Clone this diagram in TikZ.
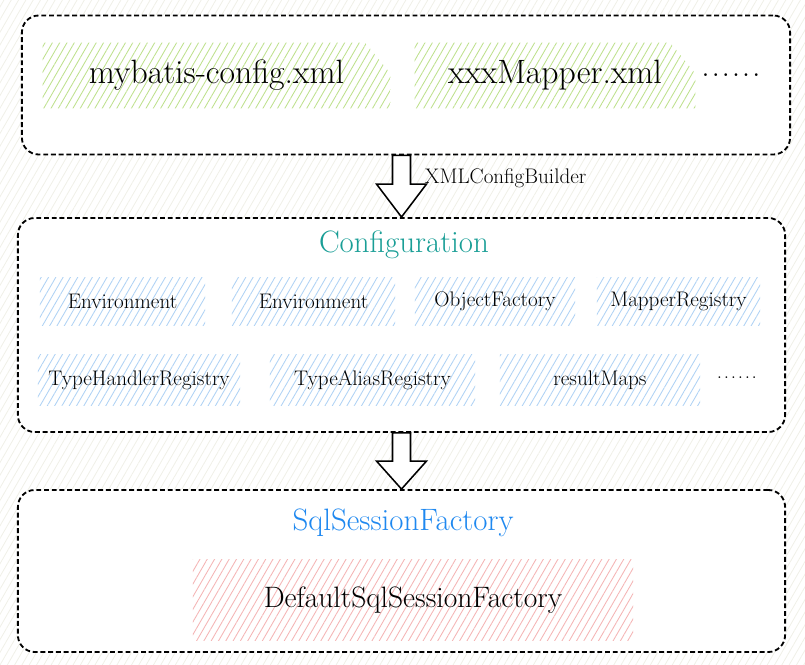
\documentclass[tikz,border=0pt]{standalone}
\usepackage{xcolor}
\usepackage{tikz}
\usetikzlibrary{patterns.meta,calc}
\definecolor{hgreen}{RGB}{190,225,140}
\definecolor{hblue}{RGB}{175,210,245}
\definecolor{hred}{RGB}{245,180,180}
\definecolor{hbg}{RGB}{240,240,232}
\definecolor{cfgteal}{RGB}{25,158,150}
\definecolor{ssfblue}{RGB}{30,136,240}
\newcommand{\moredots}{.\kern1.2pt.\kern1.2pt.\kern1.2pt.\kern1.2pt.\kern1.2pt.}
\tikzset{
  frame/.style={draw, fill=white, rounded corners=12pt, line width=1.3pt,
    dash pattern=on 3.5pt off 2pt},
  hatch/.style={pattern={Lines[angle=60,distance=4.5pt,line width=0.6pt]},
    pattern color=#1},
  part/.style={hatch=hblue, inner sep=0pt, font=\fontsize{15}{18}\selectfont},
  title/.style={font=\fontsize{22}{26}\selectfont},
  blockarrow/.style={draw, fill=white, line width=1.1pt, line join=miter}
}
\begin{document}
\begin{tikzpicture}[x=0.025cm, y=-0.025cm]
  % background
  \fill[hatch=hbg] (0,0) rectangle (805,665);%
  \useasboundingbox (0,0) rectangle (805,665);%

  % xml files
  \node[frame, minimum width=19.2cm, minimum height=3.475cm] (files) at (406,85) {};%
  \node[inner sep=0pt, minimum width=8.675cm, minimum height=1.625cm] (cfgxml) at (216.5,75.5) {};%
  \node[inner sep=0pt, minimum width=7cm, minimum height=1.625cm] (mapxml) at (555,75.5) {};%
  \fill[hatch=hgreen] (cfgxml.south west) -- (cfgxml.north west) -- ($(cfgxml.north east)+(-25,0)$)
    -- ($(cfgxml.east)+(0,-2)$) -- (cfgxml.south east) -- cycle;%
  \fill[hatch=hgreen] (mapxml.south west) -- (mapxml.north west) -- ($(mapxml.north east)+(-25,0)$)
    -- ($(mapxml.east)+(0,-2)$) -- (mapxml.south east) -- cycle;%
  \node[font=\fontsize{24}{28}\selectfont] at (cfgxml) {mybatis-config.xml};%
  \node[font=\fontsize{24}{28}\selectfont] at (mapxml) {xxxMapper.xml};%
  \node[font=\fontsize{24}{28}\selectfont] (morexml) at (731,75) {\moredots};%

  % configuration
  \node[frame, minimum width=19.175cm, minimum height=5.35cm] (conf) at (401.5,325) {};%
  \node[title, text=cfgteal] (conftitle) at (404,245) {Configuration};%
  \node[part, minimum width=4.125cm, minimum height=1.175cm] (env1) at (122.5,301.5) {Environment};%
  \node[part, minimum width=4.075cm, minimum height=1.175cm] (env2) at (313.5,301.5) {Environment};%
  \node[part, minimum width=4cm, minimum height=1.175cm] (objf) at (495,301.5) {ObjectFactory};%
  \node[part, minimum width=4.075cm, minimum height=1.175cm] (mreg) at (678.5,301.5) {MapperRegistry};%
  \node[part, minimum width=5.05cm, minimum height=1.25cm] (threg) at (139,380) {TypeHandlerRegistry};%
  \node[part, minimum width=5.125cm, minimum height=1.25cm] (tareg) at (372.5,380) {TypeAliasRegistry};%
  \node[part, minimum width=5cm, minimum height=1.25cm] (rmaps) at (600,380) {resultMaps};%
  \node[font=\fontsize{15}{18}\selectfont] (moreconf) at (737,378) {\moredots};%

  % session factory
  \node[frame, minimum width=19.175cm, minimum height=4.05cm] (ssf) at (401.5,571) {};%
  \node[title, text=ssfblue] (ssftitle) at (403,523) {SqlSessionFactory};%
  \node[hatch=hred, inner sep=0pt, minimum width=11cm, minimum height=2cm,
    font=\fontsize{21}{25}\selectfont] (dssf) at (413,600) {DefaultSqlSessionFactory};%

  % arrows
  \draw[blockarrow] ($(files.south -| conf.north)+(-9,0)$) -- ($(files.south -| conf.north)+(9,0)$)
    -- ($(conf.north)+(9,-33)$) -- ($(conf.north)+(25,-33)$) -- (conf.north)
    -- ($(conf.north)+(-25,-33)$) -- ($(conf.north)+(-9,-33)$) -- cycle;%
  \node[anchor=west, font=\fontsize{15}{18}\selectfont] (builder) at (420,178) {XMLConfigBuilder};%
  \draw[blockarrow] ($(conf.south)+(-9,0)$) -- ($(conf.south)+(9,0)$) -- ($(ssf.north)+(9,-28)$)
    -- ($(ssf.north)+(25,-28)$) -- (ssf.north) -- ($(ssf.north)+(-25,-28)$)
    -- ($(ssf.north)+(-9,-28)$) -- cycle;%
\end{tikzpicture}
\end{document}
